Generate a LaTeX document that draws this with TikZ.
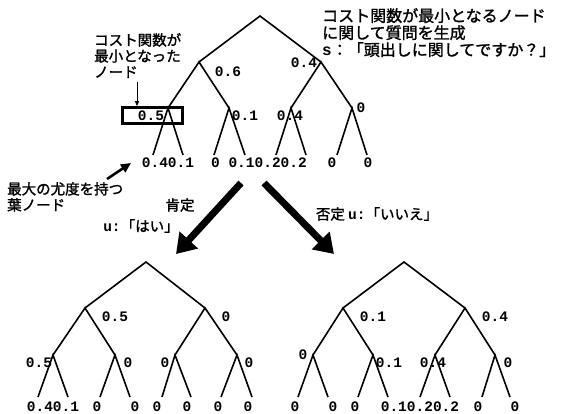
\documentclass[tikz,border=0pt]{standalone}
\usepackage{fontspec}
\setmonofont{Liberation Mono}
\newfontfamily\cjk[FakeBold=1.5]{Noto Sans CJK JP}
\usetikzlibrary{arrows.meta}
\tikzset{
  edge/.style={line width=1.6pt},
  val/.style={font=\ttfamily\bfseries\fontsize{14.5}{14.5}\selectfont, inner sep=0pt},
  jp/.style={font=\cjk\fontsize{14.5}{16}\selectfont, align=left, inner sep=0pt},
  jpbig/.style={font=\cjk\fontsize{16}{17}\selectfont, align=left, inner sep=0pt},
  bigarrow/.style={line width=7pt, -{Triangle[length=19pt,width=24pt]}},
}
\begin{document}
\begin{tikzpicture}[x=1pt,y=-1pt]
\useasboundingbox (0,0) rectangle (563,414);
% ---------- top tree
\coordinate (t) at (260,16);
\coordinate (tL) at (199,62); \coordinate (tR) at (321,62);
\coordinate (tLL) at (168,108); \coordinate (tLR) at (229,108);
\coordinate (tRL) at (291,108); \coordinate (tRR) at (352,108);
\foreach \n/\x in {1/153,2/183,3/214,4/245,5/276,6/306,7/337,8/367}
  \coordinate (tl\n) at (\x,155);
\draw[edge] (tL) -- (t) -- (tR);
\draw[edge] (tLL) -- (tL) -- (tLR);
\draw[edge] (tRL) -- (tR) -- (tRR);
\draw[edge] (tl1) -- (tLL) -- (tl2);
\draw[edge] (tl3) -- (tLR) -- (tl4);
\draw[edge] (tl5) -- (tRL) -- (tl6);
\draw[edge] (tl7) -- (tRR) -- (tl8);
\node[val] (a1) at (228,72) {0.6};
\node[val] (a2) at (304,63) {0.4};
\node[val] (a3) at (151,116) {0.5};
\node[draw, line width=2.6pt, minimum width=60pt, minimum height=16pt, inner sep=0pt] (box) at (152.5,115.5) {};
\node[val] (a4) at (245,116) {0.1};
\node[val] (a5) at (290,116) {0.4};
\node[val] (a6) at (361,108) {0};
\node[val] (b1) at (168,163) {0.40.1};
\node[val] (b2) at (259,163) {0 0.10.20.2};
\node[val] (b3) at (332,163) {0};
\node[val] (b4) at (368,163) {0};
% notes
\node[jp, anchor=north west] (n1) at (94,33) {コスト関数が\\最小となった\\ノード};
\draw[line width=0.9pt, -{Triangle[length=5pt,width=4pt]}] (137,82) -- (box.north -| 137,0);
\node[jpbig, anchor=north west] (n2) at (322,8) {コスト関数が最小となるノード\\に関して質問を生成\\{\ttfamily\bfseries s}：「頭出しに関してですか？」};
\coordinate (sa) at (107,179);
\draw[line width=2.6pt, -{Triangle[length=10pt,width=9pt]}] (sa) -- (131,163);
\node[jp, anchor=north west] (n3) at (7,182) {最大の尤度を持つ\\葉ノード};
% big arrows
\coordinate (ba1) at (241,183); \coordinate (ba2) at (176,254);
\coordinate (bb1) at (264,183); \coordinate (bb2) at (334,254);
\draw[bigarrow] (ba1) -- (ba2);
\draw[bigarrow] (bb1) -- (bb2);
\node[jp] (y1) at (180,205) {肯定};
\node[jp] (y2) at (141,226) {{\ttfamily\bfseries u:}「はい」};
\node[jp] (y3) at (377,214) {否定 {\ttfamily\bfseries u:}「いいえ」};
% ---------- bottom left tree
\coordinate (l) at (146,262);
\coordinate (lL) at (85,308); \coordinate (lR) at (205,308);
\coordinate (lLL) at (53,355); \coordinate (lLR) at (115,355);
\coordinate (lRL) at (175,355); \coordinate (lRR) at (237,355);
\foreach \n/\x in {1/38,2/68,3/100,4/130,5/162,6/191,7/221,8/252}
  \coordinate (ll\n) at (\x,397);
\draw[edge] (lL) -- (l) -- (lR);
\draw[edge] (lLL) -- (lL) -- (lLR);
\draw[edge] (lRL) -- (lR) -- (lRR);
\draw[edge] (ll1) -- (lLL) -- (ll2);
\draw[edge] (ll3) -- (lLR) -- (ll4);
\draw[edge] (ll5) -- (lRL) -- (ll6);
\draw[edge] (ll7) -- (lRR) -- (ll8);
\node[val] (c1) at (115,317) {0.5};
\node[val] (c2) at (226,317) {0};
\node[val] (c3) at (39,363) {0.5};
\node[val] (c4) at (128,363) {0};
\node[val] (c5) at (165,363) {0};
\node[val] (c6) at (249,363) {0};
\node[val] (d1) at (53,407) {0.40.1};
\node[val] (d2) at (97,407) {0};
\node[val] (d3) at (135,407) {0};
\node[val] (d4) at (157,407) {0};
\node[val] (d5) at (187,407) {0};
\node[val] (d6) at (218,407) {0};
\node[val] (d7) at (248,407) {0};
% ---------- bottom right tree
\coordinate (r) at (404,262);
\coordinate (rL) at (343,308); \coordinate (rR) at (465,308);
\coordinate (rLL) at (313,355); \coordinate (rLR) at (373,355);
\coordinate (rRL) at (435,355); \coordinate (rRR) at (495,355);
\foreach \n/\x in {1/298,2/328,3/358,4/388,5/420,6/450,7/482,8/510}
  \coordinate (rl\n) at (\x,397);
\draw[edge] (rL) -- (r) -- (rR);
\draw[edge] (rLL) -- (rL) -- (rLR);
\draw[edge] (rRL) -- (rR) -- (rRR);
\draw[edge] (rl1) -- (rLL) -- (rl2);
\draw[edge] (rl3) -- (rLR) -- (rl4);
\draw[edge] (rl5) -- (rRL) -- (rl6);
\draw[edge] (rl7) -- (rRR) -- (rl8);
\node[val] (e1) at (373,317) {0.1};
\node[val] (e2) at (495,317) {0.4};
\node[val] (e3) at (303,355) {0};
\node[val] (e4) at (389,363) {0.1};
\node[val] (e5) at (433,363) {0.4};
\node[val] (e6) at (508,363) {0};
\node[val] (f1) at (295,407) {0};
\node[val] (f2) at (333,407) {0};
\node[val] (f3) at (355,407) {0};
\node[val] (f4) at (420,407) {0.10.20.2};
\node[val] (f5) at (478,407) {0};
\node[val] (f6) at (515,407) {0};
\end{tikzpicture}
\end{document}
